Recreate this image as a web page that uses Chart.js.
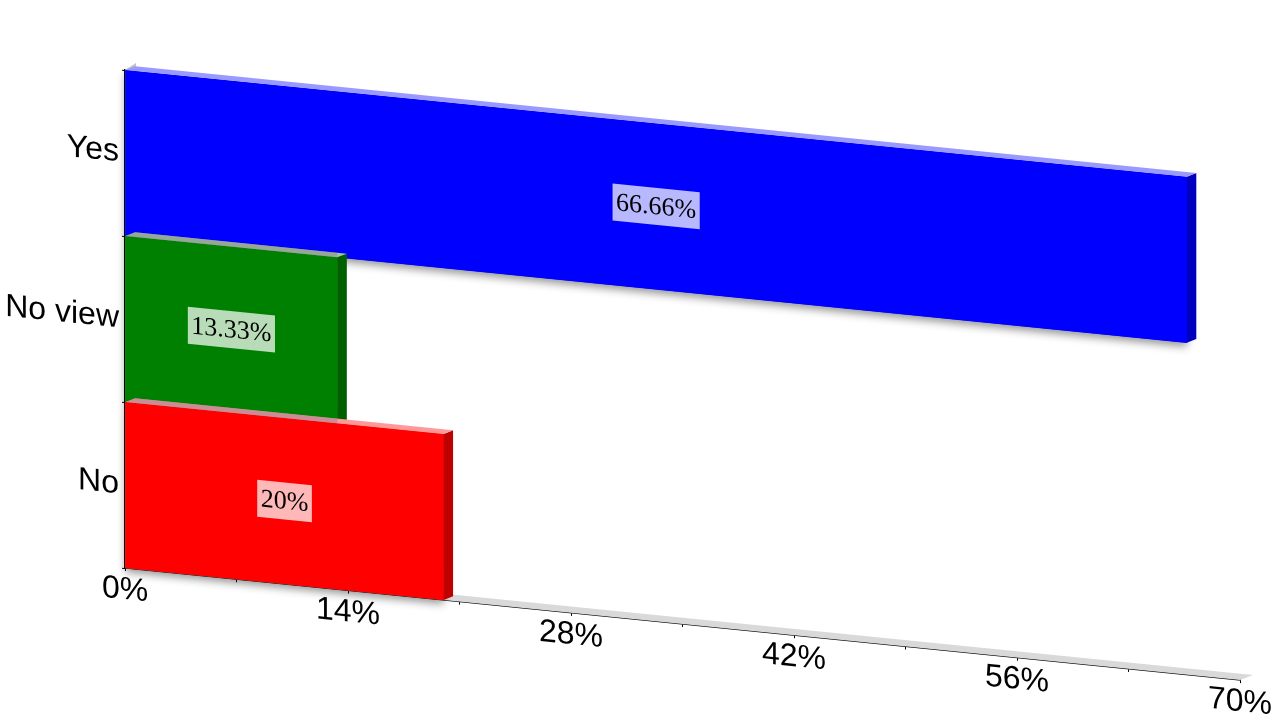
<!DOCTYPE html>
<html>
<head>
<meta charset="utf-8">
<style>html,body{margin:0;padding:0;background:#fff}canvas{display:block}</style>
<script src="https://cdn.jsdelivr.net/npm/chart.js@4"></script>
</head>
<body>
<canvas id="c" width="1280" height="720"></canvas>
<script>
const categories = ['Yes', 'No view', 'No'];
const values = [66.66, 13.33, 20];
const valueLabels = ['66.66%', '13.33%', '20%'];
const frontColors = ['#0000ff', '#008000', '#ff0000'];
const topColors = ['#9999ff', '#99cc99', '#ff9999'];
const sideColors = ['#0000bf', '#006000', '#bf0000'];
const xTickLabels = ['0%', '14%', '28%', '42%', '56%', '70%'];
const xMax = 70, xStep = 7;

const SKEW = 0.1005, ORIGIN_X = 125;
const DX = 9.5, DY = -3.7;      // extrusion of bars
const WX = 13, WY = -5;         // extrusion of floor
const WALL_DY = -7;             // rise of the wall's top corner

function poly(ctx, pts, fill) {
  ctx.beginPath();
  pts.forEach((p, i) => i ? ctx.lineTo(p[0], p[1]) : ctx.moveTo(p[0], p[1]));
  ctx.closePath();
  ctx.fillStyle = fill;
  ctx.fill();
}

const skewPlugin = {
  id: 'skew',
  beforeDraw(chart) {
    const ctx = chart.ctx;
    ctx.save();
    ctx.transform(1, SKEW, 0, 1, 0, -SKEW * ORIGIN_X);
  },
  afterDraw(chart) { chart.ctx.restore(); }
};

const depthPlugin = {
  id: 'depth',
  beforeDatasetsDraw(chart) {
    const ctx = chart.ctx, a = chart.chartArea;
    const g = '#d9d9d9';
    poly(ctx, [[a.left, a.bottom], [a.right, a.bottom], [a.right + WX, a.bottom + WY - WX * SKEW], [a.left + WX, a.bottom + WY - WX * SKEW]], g);
    poly(ctx, [[a.left, a.top], [a.left + 11, a.top + WALL_DY - 11 * SKEW], [a.left + 11, a.bottom + WALL_DY - 11 * SKEW], [a.left, a.bottom]], '#c4c4c4');
    const bars = chart.getDatasetMeta(0).data;
    bars.forEach((b, i) => {
      ctx.save();
      ctx.shadowColor = 'rgba(0,0,0,0.42)';
      ctx.shadowBlur = 9;
      ctx.shadowOffsetY = 4;
      ctx.fillStyle = frontColors[i];
      ctx.fillRect(b.base, b.y - b.height / 2, b.x - b.base, b.height);
      ctx.restore();
    });
  },
  afterDatasetsDraw(chart) {
    const ctx = chart.ctx;
    const bars = chart.getDatasetMeta(0).data;
    const dy = DY - DX * SKEW;
    bars.forEach((b, i) => {
      const l = b.base, r = b.x, t = b.y - b.height / 2, bt = b.y + b.height / 2;
      poly(ctx, [[r, t], [r + DX, t + dy], [r + DX, bt + dy], [r, bt]], sideColors[i]);
      poly(ctx, [[l, t], [l + DX, t + dy], [r + DX, t + dy], [r, t]], topColors[i]);
      if (i > 0) {
        const prev = bars[i - 1];
        const pr = Math.min(prev.x, r);
        poly(ctx, [[l, t], [l + DX, t + dy], [pr, t + dy], [pr, t]], 'rgba(150,130,150,0.5)');
      }
      ctx.font = '26px "Liberation Serif"';
      const bw = ctx.measureText(valueLabels[i]).width + 7, bh = 37, cx = (l + r) / 2, cy = b.y;
      ctx.fillStyle = 'rgba(255,255,255,0.72)';
      ctx.fillRect(cx - bw / 2, cy - bh / 2, bw, bh);
      ctx.fillStyle = '#000';
      ctx.textAlign = 'center';
      ctx.textBaseline = 'middle';
      ctx.fillText(valueLabels[i], cx, cy + 1);
    });
  }
};

new Chart(document.getElementById('c'), {
  type: 'bar',
  data: {
    labels: categories,
    datasets: [{
      data: values,
      backgroundColor: frontColors,
      borderWidth: 0,
      barPercentage: 1,
      categoryPercentage: 1
    }]
  },
  options: {
    indexAxis: 'y',
    responsive: false,
    animation: false,
    layout: { padding: { top: 70, right: 40, left: 0, bottom: 0 } },
    plugins: { legend: { display: false }, title: { display: false }, tooltip: { enabled: false } },
    scales: {
      x: {
        z: 1,
        min: 0, max: xMax,
        afterFit(s) { s.height = 152; },
        border: { color: '#000', width: 1.5 },
        grid: { drawOnChartArea: false, drawTicks: true, tickLength: 3, color: '#000', tickColor: '#000', tickWidth: 1 },
        ticks: {
          stepSize: xStep, autoSkip: false, maxRotation: 0, minRotation: 0, padding: 0,
          color: '#000', font: { family: '"Liberation Sans"', size: 32 },
          callback: v => xTickLabels.includes(v + '%') ? v + '%' : ''
        }
      },
      y: {
        z: 1,
        afterFit(s) { s.width = 125; },
        border: { color: '#000', width: 1.5 },
        grid: { drawOnChartArea: false, drawTicks: true, tickLength: 3, color: '#000', tickColor: '#000', tickWidth: 1 },
        ticks: { padding: 3, color: '#000', font: { family: '"Liberation Sans"', size: 32 } }
      }
    }
  },
  plugins: [skewPlugin, depthPlugin]
});
</script>
</body>
</html>
